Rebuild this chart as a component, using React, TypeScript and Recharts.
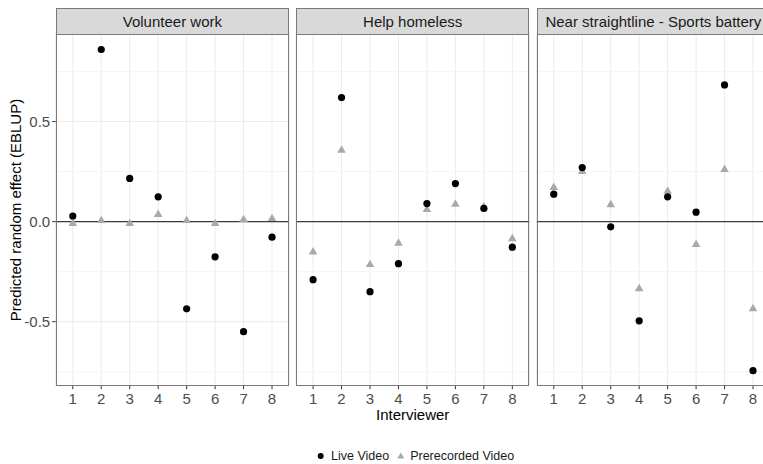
import React from 'react';
import { ScatterChart, Scatter, XAxis, YAxis, CartesianGrid, ReferenceLine } from 'recharts';

const interviewers = [1, 2, 3, 4, 5, 6, 7, 8];
const panelTitles = ['Volunteer work', 'Help homeless', 'Near straightline - Sports battery'];

const volunteerLive = [0.028, 0.86, 0.216, 0.124, -0.436, -0.176, -0.55, -0.078];
const volunteerPre = [-0.01, 0.005, -0.01, 0.036, 0.005, -0.01, 0.01, 0.015];
const homelessLive = [-0.29, 0.62, -0.35, -0.21, 0.09, 0.19, 0.066, -0.128];
const homelessPre = [-0.152, 0.357, -0.215, -0.108, 0.06, 0.087, 0.074, -0.086];
const sportsLive = [0.137, 0.27, -0.026, -0.496, 0.124, 0.047, 0.683, -0.745];
const sportsPre = [0.17, 0.25, 0.084, -0.335, 0.152, -0.114, 0.26, -0.435];

const yTicks = [-0.5, 0, 0.5];
const yMinorTicks = [-0.75, -0.25, 0.25, 0.75];
const yDomain: [number, number] = [-0.82, 0.94];
const xDomain: [number, number] = [0.4, 8.6];

const liveSeries = [volunteerLive, homelessLive, sportsLive];
const preSeries = [volunteerPre, homelessPre, sportsPre];

const toPoints = (vals: number[]) => interviewers.map((x, i) => ({ x, y: vals[i] }));

const FONT = '"Liberation Sans", Arial, sans-serif';
const PLOT_TOP = 33.5;
const PLOT_BOTTOM = 385.7;
const PLOT_W = 233.4;
const CHART_H = 430;
const XAXIS_H = 30;

const panels = [
  { chartLeft: 0, chartW: 295, plotLeft: 55.7, yAxisW: 55.7, marginLeft: 0 },
  { chartLeft: 290, chartW: 245, plotLeft: 296, yAxisW: 0, marginLeft: 6 },
  { chartLeft: 530, chartW: 245, plotLeft: 536.7, yAxisW: 0, marginLeft: 6.7 },
];

const Dot = (props: any) => {
  const { cx, cy } = props;
  if (cx == null || cy == null) return null;
  return <circle cx={cx} cy={cy} r={3.6} fill="#000" />;
};

const Tri = (props: any) => {
  const { cx, cy } = props;
  if (cx == null || cy == null) return null;
  const s = 8.6;
  const h = s * 0.866;
  const pts = `${cx - s / 2},${cy + h / 3} ${cx + s / 2},${cy + h / 3} ${cx},${cy - (2 * h) / 3}`;
  return <polygon points={pts} fill="#a9a9a9" />;
};

function Panel({ idx }: { idx: number }) {
  const p = panels[idx];
  const marginRight = p.chartW - p.marginLeft - p.yAxisW - PLOT_W;
  const marginBottom = CHART_H - PLOT_BOTTOM - XAXIS_H;
  const first = idx === 0;
  return (
    <div style={{ position: 'absolute', left: p.chartLeft, top: 0 }}>
      <ScatterChart
        width={p.chartW}
        height={CHART_H}
        margin={{ top: PLOT_TOP, right: marginRight, bottom: marginBottom, left: p.marginLeft }}
      >
        <CartesianGrid stroke="#ebebeb" strokeWidth={1} />
        {yMinorTicks.map((v) => (
          <ReferenceLine key={v} y={v} stroke="#f5f5f5" strokeWidth={1} />
        ))}
        <XAxis
          type="number"
          dataKey="x"
          domain={xDomain}
          ticks={interviewers}
          allowDataOverflow
          axisLine={false}
          tickLine={{ stroke: '#333', strokeWidth: 1 }}
          tickSize={3.5}
          tickMargin={4.5}
          height={XAXIS_H}
          tick={{ fontSize: 15, fill: '#4d4d4d', fontFamily: FONT }}
          interval={0}
        />
        <YAxis
          type="number"
          dataKey="y"
          domain={yDomain}
          ticks={yTicks}
          allowDataOverflow
          width={p.yAxisW}
          axisLine={false}
          tickLine={first ? { stroke: '#333', strokeWidth: 1 } : false}
          tickSize={3.5}
          tickMargin={2}
          tick={first ? { fontSize: 15, fill: '#4d4d4d', fontFamily: FONT } : false}
          tickFormatter={(v: number) => v.toFixed(1)}
          interval={0}
        />
        <ReferenceLine y={0} stroke="#3a3a3a" strokeWidth={1.4} />
        <Scatter data={toPoints(preSeries[idx])} shape={Tri} isAnimationActive={false} />
        <Scatter data={toPoints(liveSeries[idx])} shape={Dot} isAnimationActive={false} />
      </ScatterChart>
      <div
        style={{
          position: 'absolute',
          left: p.plotLeft - p.chartLeft,
          top: PLOT_TOP,
          width: PLOT_W,
          height: PLOT_BOTTOM - PLOT_TOP,
          border: '1.2px solid #7a7a7a',
          boxSizing: 'border-box',
          pointerEvents: 'none',
        }}
      />
      <div
        style={{
          position: 'absolute',
          left: p.plotLeft - p.chartLeft,
          top: 8.3,
          width: PLOT_W,
          height: 25.2 + 1.2,
          border: '1.2px solid #7a7a7a',
          background: '#d9d9d9',
          boxSizing: 'border-box',
          display: 'flex',
          alignItems: 'center',
          justifyContent: 'center',
          fontFamily: FONT,
          fontSize: 15,
          color: '#1a1a1a',
          whiteSpace: 'nowrap',
          overflow: 'visible',
        }}
      >
        {panelTitles[idx]}
      </div>
    </div>
  );
}

export default function App() {
  return (
    <div
      style={{
        position: 'absolute',
        left: 0,
        top: 0,
        width: 763,
        height: 464,
        overflow: 'hidden',
        background: '#fff',
        fontFamily: FONT,
      }}
    >
      <Panel idx={0} />
      <Panel idx={1} />
      <Panel idx={2} />
      <div
        style={{
          position: 'absolute',
          left: 16 - 150,
          top: 209.6 - 10,
          width: 300,
          height: 20,
          lineHeight: '20px',
          textAlign: 'center',
          transform: 'rotate(-90deg)',
          fontSize: 15,
          color: '#000',
          whiteSpace: 'nowrap',
        }}
      >
        Predicted random effect (EBLUP)
      </div>
      <div
        style={{
          position: 'absolute',
          left: 412.7 - 100,
          top: 405,
          width: 200,
          height: 20,
          lineHeight: '20px',
          textAlign: 'center',
          fontSize: 15,
          color: '#000',
        }}
      >
        Interviewer
      </div>
      <div
        style={{
          position: 'absolute',
          left: 316,
          top: 455.7 - 8,
          height: 16,
          display: 'flex',
          alignItems: 'center',
          fontSize: 12.5,
          color: '#1a1a1a',
          whiteSpace: 'nowrap',
        }}
      >
        <svg width={10} height={16} style={{ display: 'block' }}>
          <circle cx={4.7} cy={8} r={3} fill="#000" />
        </svg>
        <span style={{ marginLeft: 5 }}>Live Video</span>
        <svg width={14} height={16} style={{ display: 'block', marginLeft: 5 }}>
          <polygon points="3.3,10.5 10.3,10.5 6.8,4.5" fill="#a9a9a9" />
        </svg>
        <span style={{ marginLeft: 2 }}>Prerecorded Video</span>
      </div>
    </div>
  );
}
